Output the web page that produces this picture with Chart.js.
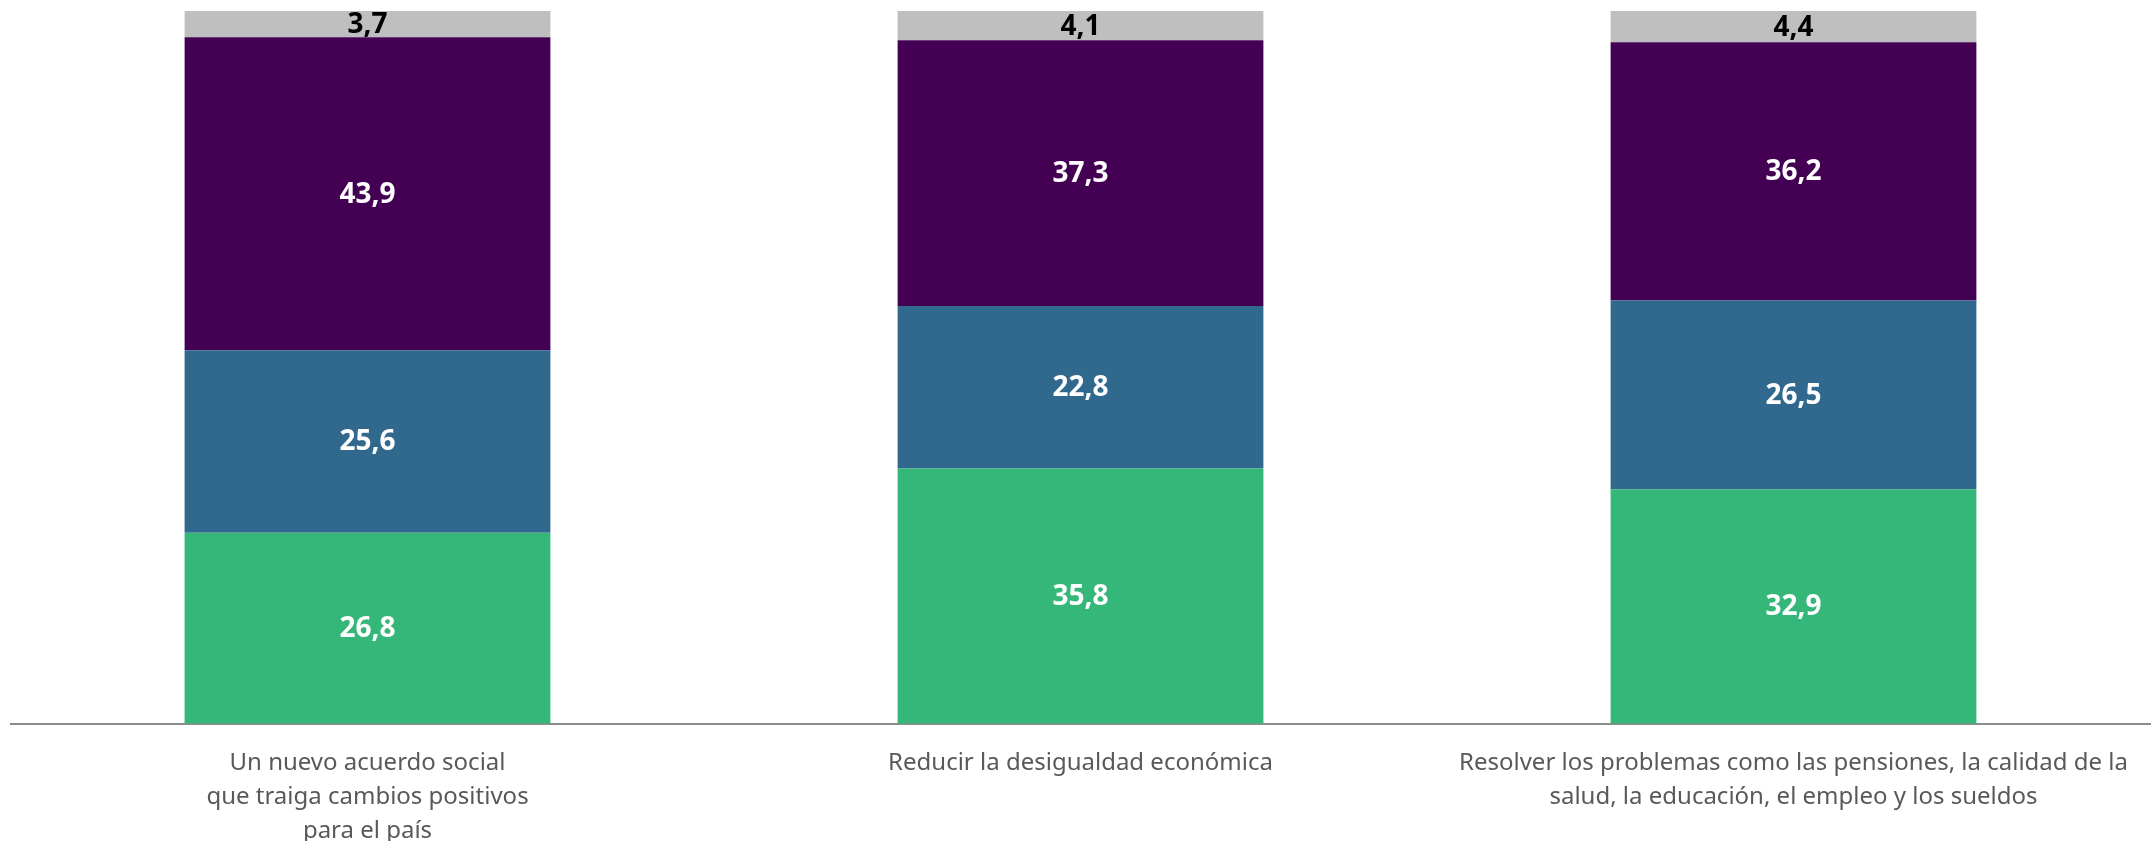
<!DOCTYPE html>
<html>
<head>
<meta charset="utf-8">
<script src="https://cdn.jsdelivr.net/npm/chart.js@4.4.1/dist/chart.umd.min.js"></script>
<style>
  body { margin: 0; background: #ffffff; }
  #wrap { width: 2152px; height: 841px; }
</style>
</head>
<body>
<div id="wrap"><canvas id="chart"></canvas></div>
<script>
const categories = [
    ["Un nuevo acuerdo social", "que traiga cambios positivos", "para el país"],
    ["Reducir la desigualdad económica"],
    ["Resolver los problemas como las pensiones, la calidad de la", "salud, la educación, el empleo y los sueldos"]
];

// bottom to top
const serie1 = [26.8, 35.8, 32.9];
const serie2 = [25.6, 22.8, 26.5];
const serie3 = [43.9, 37.3, 36.2];
const serie4 = [3.7, 4.1, 4.4];

const fontFamily = "'Noto Sans', sans-serif";

// draw the value in the middle of each segment
const segmentLabels = {
    id: 'segmentLabels',
    afterDatasetsDraw(chart) {
        const ctx = chart.ctx;
        ctx.save();
        ctx.textAlign = 'center';
        ctx.textBaseline = 'middle';
        ctx.font = "bold 28px " + fontFamily;
        chart.data.datasets.forEach((ds, i) => {
            const meta = chart.getDatasetMeta(i);
            meta.data.forEach((bar, j) => {
                const p = bar.getProps(['x', 'y', 'base'], true);
                ctx.fillStyle = ds.labelColor;
                ctx.fillText(ds.data[j].toFixed(1).replace('.', ','), p.x, (p.y + p.base) / 2 + 1);
            });
        });
        ctx.restore();
    }
};

function dataset(label, data, color, labelColor)
{
    return {
        label: label,
        data: data,
        backgroundColor: color,
        labelColor: labelColor,
        borderWidth: 0,
        barPercentage: 0.513,
        categoryPercentage: 1.0
    };
}

const config =
{
    type: 'bar',
    data:
    {
        labels: categories,
        datasets:
        [
            dataset("Serie 1", serie1, '#35b779', '#ffffff'),
            dataset("Serie 2", serie2, '#31688e', '#ffffff'),
            dataset("Serie 3", serie3, '#440154', '#ffffff'),
            dataset("Serie 4", serie4, '#bfbfbf', '#000000')
        ]
    },
    options:
    {
        responsive: true,
        maintainAspectRatio: false,
        devicePixelRatio: 1,
        animation: false,
        layout: { padding: { left: 11, right: 2, top: 11, bottom: -29 } },
        plugins:
        {
            legend: { display: false },
            tooltip: { enabled: false }
        },
        scales:
        {
            x:
            {
                stacked: true,
                grid: { display: false, drawTicks: false },
                border: { display: true, color: '#8c8c8c', width: 2 },
                ticks:
                {
                    color: '#595959',
                    padding: 22,
                    maxRotation: 0,
                    autoSkip: false,
                    font: { family: fontFamily, size: 24, lineHeight: 1.42 }
                }
            },
            y:
            {
                stacked: true,
                display: false,
                min: 0,
                max: 100
            }
        }
    },
    plugins: [segmentLabels]
};

new Chart(document.getElementById('chart'), config);
</script>
</body>
</html>
